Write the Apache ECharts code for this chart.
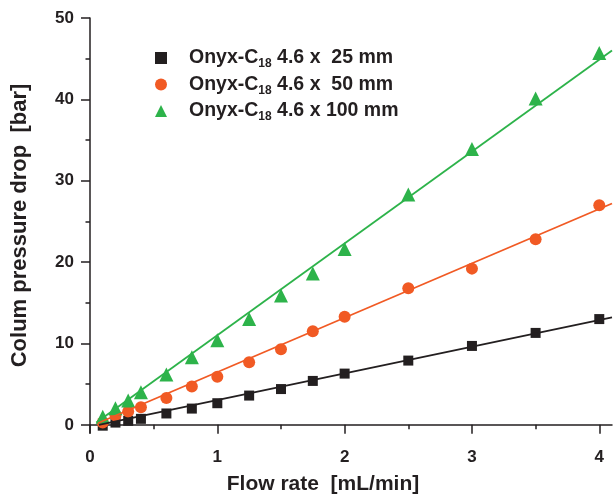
<!DOCTYPE html>
<html>
<head>
<meta charset="utf-8">
<script src="https://cdn.jsdelivr.net/npm/echarts@6/dist/echarts.min.js"></script>
<style>
  html, body { margin: 0; padding: 0; background: #fff; }
  #chart { width: 613px; height: 494px; }
</style>
</head>
<body>
<div id="chart"></div>
<script>
// flow rate (mL/min)
const flowRates = [0.1, 0.2, 0.3, 0.4, 0.6, 0.8, 1.0, 1.25, 1.5, 1.75, 2.0, 2.5, 3.0, 3.5, 4.0];

// measured pressure drop (bar) per column length
const drop25 = [-0.1, 0.28, 0.5, 0.74, 1.4, 2.0, 2.66, 3.6, 4.4, 5.4, 6.3, 7.9, 9.7, 11.3, 13.0];
const drop50 = [0.3, 1.15, 1.65, 2.15, 3.3, 4.7, 5.9, 7.7, 9.3, 11.5, 13.3, 16.8, 19.2, 22.8, 27.0];
const drop100 = [1.0, 2.05, 3.0, 4.0, 6.2, 8.3, 10.4, 13.0, 15.9, 18.6, 21.6, 28.3, 33.9, 40.1, 45.7];

// fitted lines (start, end)
const fitX25 = [0.07, 4.1], fitY25 = [0.0, 13.2];
const fitX50 = [0.06, 4.1], fitY50 = [0.2, 27.2];
const fitX100 = [0.05, 4.1], fitY100 = [0.3, 46.0];

// ticks
const xMajor = [0, 1, 2, 3, 4];
const xMinor = [0.5, 1.5, 2.5, 3.5];
const yMajor = [0, 10, 20, 30, 40, 50];
const yMinor = [5, 15, 25, 35, 45];

const names = ['Onyx-C18 4.6 x  25 mm', 'Onyx-C18 4.6 x  50 mm', 'Onyx-C18 4.6 x 100 mm'];
const colors = ['#231f20', '#f15a24', '#2db34a'];

const ink = '#231f20';
const font = 'Liberation Sans, Arial, sans-serif';

const pairs = (xs, ys) => xs.map((x, i) => [x, ys[i]]);

const chart = echarts.init(document.getElementById('chart'));

const baseX = {
    type: 'value', min: 0, max: 4.1, gridIndex: 0, position: 'bottom',
    splitLine: { show: false }
};
const baseY = {
    type: 'value', min: -1, max: 50, gridIndex: 0, position: 'left',
    splitLine: { show: false }
};

const option = {
    animation: false,
    backgroundColor: '#fff',
    color: colors,
    grid: { left: 90, top: 18, right: 1, bottom: 61, containLabel: false, outerBoundsMode: 'none' },
    legend: {
        data: names,
        orient: 'vertical',
        left: 150,
        top: 43,
        itemWidth: 12,
        itemHeight: 12,
        itemGap: 4.5,
        formatter: name => {
            const rest = name.replace('Onyx-C18', '');
            return '{p| }{a|Onyx-C}{s|18}{a|' + rest + '}';
        },
        textStyle: {
            rich: {
                p: { width: 17 },
                a: { fontFamily: font, fontWeight: 'bold', fontSize: 19.5, lineHeight: 24, color: ink },
                s: { fontFamily: font, fontWeight: 'bold', fontSize: 12, lineHeight: 5, verticalAlign: 'bottom', color: ink }
            }
        }
    },
    xAxis: [
        Object.assign({}, baseX, {
            name: 'Flow rate  [mL/min]',
            nameLocation: 'middle',
            nameGap: 41,
            nameTextStyle: { fontFamily: font, fontWeight: 'bold', fontSize: 21, color: ink, padding: [0, 56, 0, 0] },
            axisLine: { lineStyle: { color: ink, width: 1.5 } },
            axisTick: { length: 9, customValues: xMajor, lineStyle: { color: ink, width: 1.5 } },
            axisLabel: { customValues: xMajor, margin: 16, fontFamily: font, fontWeight: 'bold', fontSize: 17, color: ink }
        }),
        Object.assign({}, baseX, {
            axisLine: { show: false },
            axisTick: { length: 4.5, customValues: xMinor, lineStyle: { color: ink, width: 1.5 } },
            axisLabel: { show: false }
        })
    ],
    yAxis: [
        Object.assign({}, baseY, {
            name: 'Colum pressure drop  [bar]',
            nameLocation: 'middle',
            nameGap: 59,
            nameTextStyle: { fontFamily: font, fontWeight: 'bold', fontSize: 22, color: ink },
            axisLine: { lineStyle: { color: ink, width: 1.5 } },
            axisTick: { length: 9, customValues: yMajor, lineStyle: { color: ink, width: 1.5 } },
            axisLabel: { customValues: yMajor, margin: 16, fontFamily: font, fontWeight: 'bold', fontSize: 17, color: ink }
        }),
        Object.assign({}, baseY, {
            axisLine: { show: false },
            axisTick: { length: 4.5, customValues: yMinor, lineStyle: { color: ink, width: 1.5 } },
            axisLabel: { show: false }
        })
    ],
    series: [
        { type: 'line', data: pairs(fitX25, fitY25), showSymbol: false, silent: true, lineStyle: { color: colors[0], width: 1.8 } },
        { type: 'line', data: pairs(fitX50, fitY50), showSymbol: false, silent: true, lineStyle: { color: colors[1], width: 1.8 } },
        { type: 'line', data: pairs(fitX100, fitY100), showSymbol: false, silent: true, lineStyle: { color: colors[2], width: 1.8 } },
        { name: names[0], type: 'scatter', symbol: 'rect', symbolSize: 10, data: pairs(flowRates, drop25), itemStyle: { color: colors[0], opacity: 1 } },
        { name: names[1], type: 'scatter', symbol: 'circle', symbolSize: 12, data: pairs(flowRates, drop50), itemStyle: { color: colors[1], opacity: 1 } },
        { name: names[2], type: 'scatter', symbol: 'triangle', symbolSize: 14, data: pairs(flowRates, drop100), itemStyle: { color: colors[2], opacity: 1 } }
    ]
};

chart.setOption(option);
</script>
</body>
</html>
